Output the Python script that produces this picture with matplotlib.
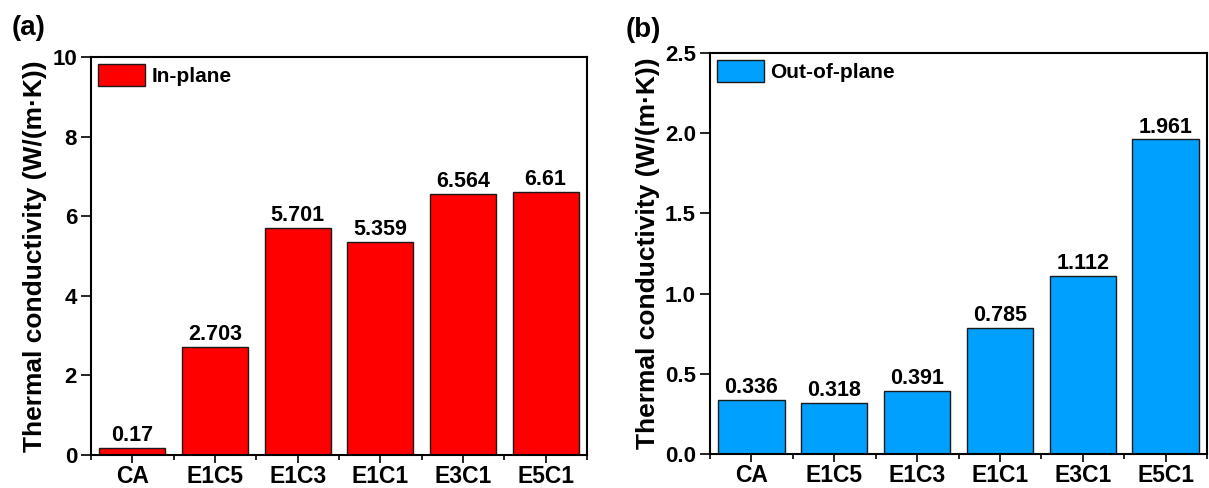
import matplotlib
matplotlib.use("Agg")
import matplotlib.pyplot as plt
from matplotlib.patches import Patch
import numpy as np

plt.rcParams['font.family'] = ['Liberation Sans', 'DejaVu Sans']
plt.rcParams['font.weight'] = 'bold'

categories = ["CA", "E1C5", "E1C3", "E1C1", "E3C1", "E5C1"]
in_plane = [0.17, 2.703, 5.701, 5.359, 6.564, 6.61]
in_plane_labels = ["0.17", "2.703", "5.701", "5.359", "6.564", "6.61"]
out_plane = [0.336, 0.318, 0.391, 0.785, 1.112, 1.961]
out_plane_labels = ["0.336", "0.318", "0.391", "0.785", "1.112", "1.961"]

fig = plt.figure(figsize=(12.09, 4.88), dpi=100)
ax1 = fig.add_axes([91/1209, 1-455/488, (587-91)/1209, (455-57)/488])
ax2 = fig.add_axes([710/1209, 1-454/488, (1207-710)/1209, (454-53)/488])

def draw(ax, vals, labels, color, ylim, yticks, yticklabels, legend, offset):
    x = np.arange(len(categories))
    ax.bar(x, vals, width=0.8, color=color, edgecolor='#1a1a1a', linewidth=1.0, zorder=2)
    for xi, v, lab in zip(x, vals, labels):
        ax.text(xi, v + offset, lab, ha='center', va='bottom', fontsize=15.5, fontweight='bold')
    ax.set_xlim(-0.5, len(categories) - 0.5)
    ax.set_ylim(*ylim)
    ax.set_xticks(x)
    ax.set_xticklabels(categories, fontsize=16.5, fontweight='bold')
    ax.set_xticks(np.arange(-0.5, len(categories), 1.0), minor=True)
    ax.set_yticks(yticks)
    ax.set_yticklabels(yticklabels, fontsize=16, fontweight='bold')
    ax.tick_params(axis='x', which='major', direction='out', length=6, width=1.2, pad=1.5)
    ax.tick_params(axis='x', which='minor', direction='out', length=3.5, width=1.2)
    ax.tick_params(axis='y', which='major', direction='out', length=7, width=1.2, pad=3)
    for s in ax.spines.values():
        s.set_linewidth(1.5)
    ax.set_ylabel("Thermal conductivity (W/(m\u00b7K))", fontsize=19, fontweight='bold', labelpad=4)
    h = Patch(facecolor=color, edgecolor='#1a1a1a', linewidth=1.0)
    ax.legend([h], [legend], loc='upper left', frameon=False,
              prop={'weight': 'bold', 'size': 15}, handlelength=2.25, handleheight=1.2,
              borderaxespad=0.15, borderpad=0.2, handletextpad=0.3)

draw(ax1, in_plane, in_plane_labels, '#FF0000', (0, 10), [0, 2, 4, 6, 8, 10],
     ["0", "2", "4", "6", "8", "10"], "In-plane", 0.05)
draw(ax2, out_plane, out_plane_labels, '#00A0FF', (0, 2.5), [0.0, 0.5, 1.0, 1.5, 2.0, 2.5],
     ["0.0", "0.5", "1.0", "1.5", "2.0", "2.5"], "Out-of-plane", 0.012)

fig.text(12/1209, 1-28/488, "(a)", fontsize=20, fontweight='bold', va='center', ha='left')
fig.text(626/1209, 1-30/488, "(b)", fontsize=20, fontweight='bold', va='center', ha='left')

fig.savefig("out.png", dpi=100)
